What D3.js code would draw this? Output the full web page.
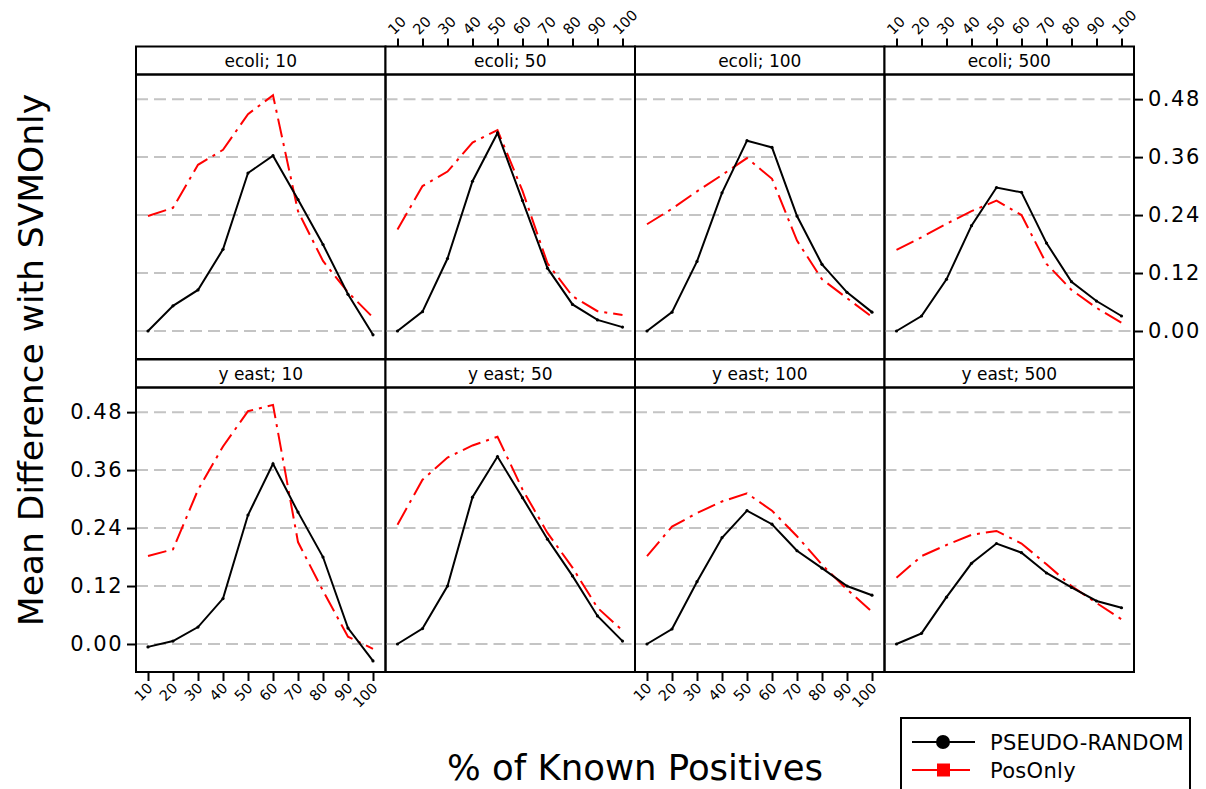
<!DOCTYPE html>
<html>
<head>
<meta charset="utf-8">
<script src="https://cdn.jsdelivr.net/npm/d3@7"></script>
<style>
  body { margin: 0; background: #fff; }
  text { font-family: "DejaVu Sans", Verdana, sans-serif; }
</style>
</head>
<body>
<svg id="chart" width="1206" height="789"></svg>
<script>
// % of known positives
const known = [10, 20, 30, 40, 50, 60, 70, 80, 90, 100];
const yTicks = [0, 0.12, 0.24, 0.36, 0.48];

// PSEUDO-RANDOM (black) / PosOnly (red) per panel
const ecoli10_pr  = [0.000, 0.052, 0.085, 0.169, 0.327, 0.363, 0.272, 0.179, 0.076, -0.008];
const ecoli10_pos = [0.238, 0.255, 0.344, 0.375, 0.449, 0.488, 0.248, 0.145, 0.080, 0.028];
const ecoli50_pr  = [0.000, 0.040, 0.150, 0.310, 0.410, 0.270, 0.130, 0.055, 0.023, 0.008];
const ecoli50_pos = [0.210, 0.300, 0.330, 0.390, 0.416, 0.290, 0.140, 0.072, 0.041, 0.033];
const ecoli100_pr  = [0.000, 0.039, 0.144, 0.286, 0.394, 0.380, 0.238, 0.138, 0.080, 0.039];
const ecoli100_pos = [0.221, 0.253, 0.289, 0.323, 0.358, 0.315, 0.187, 0.107, 0.068, 0.029];
const ecoli500_pr  = [0.000, 0.031, 0.107, 0.218, 0.297, 0.287, 0.182, 0.102, 0.062, 0.031];
const ecoli500_pos = [0.168, 0.194, 0.222, 0.248, 0.270, 0.240, 0.139, 0.085, 0.048, 0.017];
const yeast10_pr  = [-0.006, 0.006, 0.035, 0.094, 0.267, 0.373, 0.273, 0.180, 0.033, -0.035];
const yeast10_pos = [0.182, 0.196, 0.319, 0.409, 0.482, 0.495, 0.211, 0.110, 0.015, -0.010];
const yeast50_pr  = [0.000, 0.032, 0.120, 0.304, 0.388, 0.303, 0.217, 0.141, 0.058, 0.006];
const yeast50_pos = [0.247, 0.340, 0.386, 0.411, 0.429, 0.320, 0.230, 0.158, 0.075, 0.028];
const yeast100_pr  = [0.000, 0.031, 0.129, 0.220, 0.276, 0.248, 0.193, 0.157, 0.120, 0.101];
const yeast100_pos = [0.182, 0.243, 0.271, 0.295, 0.312, 0.276, 0.223, 0.164, 0.113, 0.067];
const yeast500_pr  = [0.000, 0.022, 0.097, 0.167, 0.208, 0.189, 0.147, 0.117, 0.089, 0.075];
const yeast500_pos = [0.137, 0.182, 0.205, 0.226, 0.234, 0.208, 0.165, 0.120, 0.085, 0.051];

const panels = [
  {label: "ecoli; 10",  row: 0, col: 0, pr: ecoli10_pr,  pos: ecoli10_pos},
  {label: "ecoli; 50",  row: 0, col: 1, pr: ecoli50_pr,  pos: ecoli50_pos},
  {label: "ecoli; 100", row: 0, col: 2, pr: ecoli100_pr, pos: ecoli100_pos},
  {label: "ecoli; 500", row: 0, col: 3, pr: ecoli500_pr, pos: ecoli500_pos},
  {label: "y east; 10",  row: 1, col: 0, pr: yeast10_pr,  pos: yeast10_pos},
  {label: "y east; 50",  row: 1, col: 1, pr: yeast50_pr,  pos: yeast50_pos},
  {label: "y east; 100", row: 1, col: 2, pr: yeast100_pr, pos: yeast100_pos},
  {label: "y east; 500", row: 1, col: 3, pr: yeast500_pr, pos: yeast500_pos}
];

const svg = d3.select("#chart");

const left = 136, panelW = 249.5;
const stripH = 28;
const rowTop = [46.5, 359.5];
const panelH = 284.5;

const x = d3.scaleLinear().domain([5.2, 105]).range([0, panelW]);
const y = d3.scaleLinear().domain([-0.058, 0.531]).range([panelH, 0]);

const lineGenerator = d3.line()
    .x((d, i) => x(known[i]))
    .y(d => y(d));

panels.forEach(p => {
    const px = left + p.col * panelW;
    const py = rowTop[p.row];
    const g = svg.append("g").attr("transform", `translate(${px},${py})`);

    // strip
    g.append("rect")
        .attr("width", panelW).attr("height", stripH)
        .attr("fill", "#fff").attr("stroke", "#000").attr("stroke-width", 2);
    g.append("text")
        .attr("x", panelW / 2).attr("y", stripH / 2 + 6)
        .attr("text-anchor", "middle")
        .style("font-size", "17px")
        .text(p.label);

    const body = g.append("g").attr("transform", `translate(0,${stripH})`);

    // dashed reference lines
    body.selectAll("line.grid")
        .data(yTicks)
        .join("line")
        .attr("class", "grid")
        .attr("x1", 0).attr("x2", panelW)
        .attr("y1", d => y(d)).attr("y2", d => y(d))
        .attr("stroke", "#c4c4c4")
        .attr("stroke-width", 2)
        .attr("stroke-dasharray", "12,6");

    body.append("path")
        .attr("d", lineGenerator(p.pos))
        .attr("fill", "none")
        .attr("stroke", "#ff0000")
        .attr("stroke-width", 2)
        .attr("stroke-dasharray", "19,6,3,6");

    body.append("path")
        .attr("d", lineGenerator(p.pr))
        .attr("fill", "none")
        .attr("stroke", "#000")
        .attr("stroke-width", 2);

    // tiny point marks
    body.selectAll("circle.pt")
        .data(p.pr)
        .join("circle")
        .attr("class", "pt")
        .attr("cx", (d, i) => x(known[i]))
        .attr("cy", d => y(d))
        .attr("r", 1.6)
        .attr("fill", "#000");

    body.append("rect")
        .attr("width", panelW).attr("height", panelH)
        .attr("fill", "none").attr("stroke", "#000").attr("stroke-width", 2);

    // axes, lattice style alternating
    if (p.row === 0 && (p.col === 1 || p.col === 3)) {
        const ax = g.append("g").call(d3.axisTop(x).tickValues(known).tickSize(8).tickFormat(""));
        ax.select(".domain").remove();
        ax.selectAll("line").attr("stroke-width", 2);
        ax.selectAll(".tick").append("text")
            .attr("fill", "#000")
            .attr("text-anchor", "start")
            .attr("transform", "translate(-4,-11) rotate(-45)")
            .style("font-size", "14.5px")
            .text(d => d);
    }
    if (p.row === 1 && (p.col === 0 || p.col === 2)) {
        const ax = body.append("g")
            .attr("transform", `translate(0,${panelH})`)
            .call(d3.axisBottom(x).tickValues(known).tickSize(9).tickFormat(""));
        ax.select(".domain").remove();
        ax.selectAll("line").attr("stroke-width", 2);
        ax.selectAll(".tick").append("text")
            .attr("fill", "#000")
            .attr("text-anchor", "end")
            .attr("transform", "translate(5,17) rotate(-45)")
            .style("font-size", "14.5px")
            .text(d => d);
    }
    if (p.row === 0 && p.col === 3) {
        const ay = body.append("g")
            .attr("transform", `translate(${panelW},0)`)
            .call(d3.axisRight(y).tickValues(yTicks).tickSize(9).tickPadding(5).tickFormat(d3.format(".2f")));
        ay.select(".domain").remove();
        ay.selectAll("line").attr("stroke-width", 2);
        ay.selectAll("text").style("font-size", "21px").style("letter-spacing", "1.5px")
            .style("font-family", "'DejaVu Sans', sans-serif");
    }
    if (p.row === 1 && p.col === 0) {
        const ay = body.append("g")
            .call(d3.axisLeft(y).tickValues(yTicks).tickSize(9).tickPadding(4).tickFormat(d3.format(".2f")));
        ay.select(".domain").remove();
        ay.selectAll("line").attr("stroke-width", 2);
        ay.selectAll("text").style("font-size", "21px").style("letter-spacing", "1.5px")
            .style("font-family", "'DejaVu Sans', sans-serif");
    }
});

// axis titles
svg.append("text")
    .attr("transform", "translate(43,360) rotate(-90)")
    .attr("text-anchor", "middle")
    .style("font-size", "34.5px")
    .text("Mean Difference with SVMOnly");

svg.append("text")
    .attr("x", 635).attr("y", 780)
    .attr("text-anchor", "middle")
    .style("font-size", "35.5px")
    .text("% of Known Positives");

// legend
const legend = svg.append("g").attr("transform", "translate(901,718)");
legend.append("rect")
    .attr("width", 289).attr("height", 90)
    .attr("fill", "#fff").attr("stroke", "#000").attr("stroke-width", 2);
legend.append("line")
    .attr("x1", 11).attr("x2", 74).attr("y1", 24).attr("y2", 24)
    .attr("stroke", "#000").attr("stroke-width", 2);
legend.append("circle")
    .attr("cx", 42).attr("cy", 24).attr("r", 7).attr("fill", "#000");
legend.append("text")
    .attr("x", 89).attr("y", 32)
    .style("font-size", "21px")
    .style("letter-spacing", "0.3px")
    .text("PSEUDO-RANDOM");
legend.append("line")
    .attr("x1", 11).attr("x2", 69).attr("y1", 52).attr("y2", 52)
    .attr("stroke", "#ff0000").attr("stroke-width", 2);
legend.append("rect")
    .attr("x", 36).attr("y", 45.5).attr("width", 13).attr("height", 13).attr("fill", "#ff0000");
legend.append("text")
    .attr("x", 89).attr("y", 60)
    .style("font-size", "21px")
    .style("letter-spacing", "0.3px")
    .text("PosOnly");
</script>
</body>
</html>
